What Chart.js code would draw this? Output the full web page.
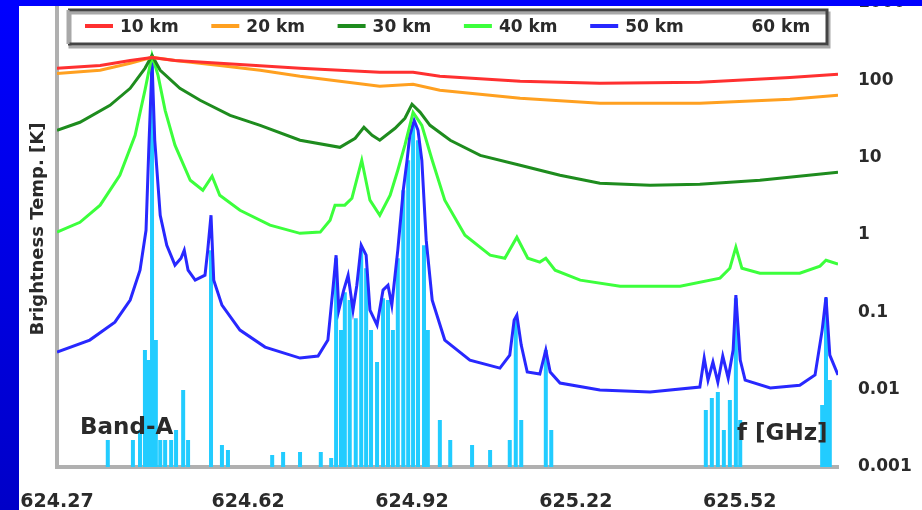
<!DOCTYPE html>
<html>
<head>
<meta charset="utf-8">
<script src="https://cdn.jsdelivr.net/npm/chart.js@4"></script>
<style>
html,body{margin:0;padding:0;background:#fff;}
canvas{display:block;}
</style>
</head>
<body>
<canvas id="c" width="922" height="510"></canvas>
<script>
// ---- data (frequency in GHz, brightness temperature in K) ----
const seriesLabels = ['10 km', '20 km', '30 km', '40 km', '50 km', '60 km'];
const xTickValues = [624.27, 624.62, 624.92, 625.22, 625.52];
const yTickValues = [0.001, 0.01, 0.1, 1, 10, 100, 1000];
const yTickLabels = ['0.001', '0.01', '0.1', '1', '10', '100', '1000'];

const km10 = [[624.270,143],[624.349,156],[624.404,181],[624.444,198],[624.486,181],[624.568,166],[624.715,143],[624.861,127],[624.922,127],[624.971,113],[625.118,97],[625.264,91.5],[625.447,94.3],[625.612,109],[625.700,120]];

const km20 = [[624.270,123],[624.349,135],[624.404,166],[624.444,198],[624.486,181],[624.568,156],[624.642,135],[624.715,113],[624.861,83.6],[624.922,88.8],[624.971,74.3],[625.118,58.5],[625.264,50.5],[625.447,50.5],[625.612,56.9],[625.700,64.0]];

const km30 = [[624.270,22.6],[624.312,28.7],[624.367,47.5],[624.404,78.8],[624.431,143],[624.444,210],[624.459,135],[624.495,78.8],[624.532,55.2],[624.587,35.3],[624.642,26.2],[624.715,16.8],[624.788,13.6],[624.816,17.8],[624.832,24.7],[624.847,19.5],[624.861,16.8],[624.889,24.0],[624.907,32.3],[624.920,49.0],[624.935,38.6],[624.953,26.2],[624.990,16.8],[625.045,10.7],[625.118,7.98],[625.191,5.93],[625.264,4.67],[625.356,4.40],[625.447,4.53],[625.557,5.10],[625.700,6.48]];

const km40 = [[624.270,1.09],[624.312,1.46],[624.349,2.43],[624.385,5.93],[624.413,19.5],[624.431,74.3],[624.444,210],[624.455,116],[624.468,40.9],[624.486,14.5],[624.514,5.10],[624.537,3.79],[624.554,5.75],[624.568,3.27],[624.605,2.09],[624.660,1.34],[624.715,1.05],[624.752,1.09],[624.770,1.55],[624.779,2.43],[624.797,2.43],[624.810,2.99],[624.828,9.25],[624.843,2.82],[624.861,1.80],[624.880,3.27],[624.894,6.87],[624.907,14.5],[624.922,38.6],[624.938,26.2],[624.957,9.25],[624.980,2.82],[625.017,0.994],[625.063,0.548],[625.090,0.501],[625.112,0.937],[625.132,0.501],[625.154,0.446],[625.165,0.501],[625.182,0.351],[625.228,0.261],[625.301,0.218],[625.411,0.218],[625.484,0.277],[625.502,0.372],[625.513,0.696],[625.524,0.372],[625.557,0.321],[625.630,0.321],[625.667,0.396],[625.678,0.472],[625.700,0.420]];

const km50 = [[624.270,0.0306],[624.330,0.0438],[624.376,0.0746],[624.404,0.144],[624.422,0.351],[624.433,1.15],[624.438,12.5],[624.444,171],[624.449,16.8],[624.459,1.80],[624.471,0.738],[624.486,0.407],[624.497,0.501],[624.503,0.637],[624.510,0.351],[624.523,0.261],[624.541,0.302],[624.546,0.637],[624.552,1.80],[624.557,0.261],[624.572,0.124],[624.605,0.0589],[624.651,0.0355],[624.715,0.0256],[624.748,0.0272],[624.766,0.0438],[624.775,0.194],[624.781,0.548],[624.786,0.107],[624.795,0.194],[624.803,0.302],[624.812,0.107],[624.819,0.224],[624.827,0.738],[624.836,0.548],[624.843,0.107],[624.856,0.0684],[624.867,0.194],[624.876,0.224],[624.883,0.124],[624.894,0.637],[624.904,3.79],[624.911,9.25],[624.916,19.5],[624.924,30.4],[624.931,22.6],[624.938,9.25],[624.946,0.857],[624.957,0.144],[624.980,0.0438],[625.026,0.0241],[625.081,0.0190],[625.099,0.0280],[625.107,0.0793],[625.112,0.0920],[625.120,0.0377],[625.131,0.0169],[625.154,0.0159],[625.165,0.0325],[625.173,0.0169],[625.191,0.0122],[625.264,0.0099],[625.356,0.0093],[625.447,0.0108],[625.455,0.0256],[625.462,0.0133],[625.471,0.0228],[625.480,0.0125],[625.489,0.0272],[625.499,0.0141],[625.508,0.0325],[625.513,0.167],[625.521,0.0241],[625.530,0.0133],[625.576,0.0105],[625.630,0.0114],[625.658,0.0155],[625.671,0.0589],[625.678,0.157],[625.685,0.0280],[625.700,0.0155]];

// 60 km: narrow lines rising from the 0.001 K floor
const spikeBase = 0.001;
const spikeFreq = [624.363,624.409,624.422,624.431,624.437,624.444,624.451,624.459,624.468,624.479,624.488,624.501,624.510,624.552,624.572,624.583,624.664,624.684,624.715,624.753,624.772,624.781,624.790,624.797,624.806,624.817,624.827,624.836,624.845,624.856,624.867,624.876,624.885,624.894,624.904,624.913,624.922,624.931,624.942,624.949,624.971,624.990,625.030,625.063,625.099,625.110,625.120,625.165,625.175,625.458,625.469,625.480,625.491,625.502,625.513,625.521,625.671,625.678,625.685];
const spikePeak = [0.00223,0.00223,0.00301,0.0325,0.0241,171,0.0438,0.00223,0.00223,0.00223,0.00301,0.0099,0.00223,0.637,0.00192,0.00166,0.00143,0.00156,0.00156,0.00156,0.00131,0.501,0.0589,0.182,0.144,0.0841,0.674,0.372,0.0589,0.0228,0.152,0.144,0.0589,0.501,3.79,9.25,28.7,16.8,0.738,0.0589,0.00405,0.00223,0.00192,0.00166,0.00223,0.0841,0.00405,0.0325,0.00301,0.00544,0.00778,0.0093,0.00301,0.00735,0.152,0.00405,0.00632,0.152,0.0133];

const seriesColors = ['#ff3030', '#ffa020', '#1e8c1e', '#3cff3c', '#2828ff', '#22ccff'];

// ---- build datasets ----
const toPts = arr => arr.map(p => ({x: p[0], y: p[1]}));
const spikePts = [];
spikeFreq.forEach((f, i) => {
  spikePts.push({x: f, y: spikeBase});
  spikePts.push({x: f, y: spikePeak[i]});
  spikePts.push({x: f, y: null});
});
const lineSets = [km10, km20, km30, km40, km50];
const datasets = lineSets.map((s, i) => ({
  label: seriesLabels[i], data: toPts(s), borderColor: seriesColors[i],
  borderWidth: 3, pointRadius: 0, tension: 0, fill: false, showSwatch: true
}));
datasets.push({
  label: seriesLabels[5], data: spikePts, borderColor: seriesColors[5],
  borderWidth: 4, pointRadius: 0, tension: 0, fill: false, spanGaps: false, showSwatch: false
});

const FONT = 'DejaVu Sans';
const TXT = '#2a2a2a';

const decor = {
  id: 'decor',
  beforeDraw(chart) {
    const ctx = chart.ctx;
    ctx.save();
    ctx.fillStyle = '#fff';
    ctx.fillRect(0, 0, chart.width, chart.height);
    ctx.restore();
  },
  beforeDatasetsDraw(chart) {
    const ctx = chart.ctx, a = chart.chartArea;
    ctx.save();
    ctx.strokeStyle = '#b0b0b0';
    ctx.lineWidth = 4;
    ctx.beginPath();
    ctx.moveTo(a.left, a.top);
    ctx.lineTo(a.left, a.bottom + 2);
    ctx.stroke();
    ctx.restore();
  },
  afterDatasetsDraw(chart) {
    const ctx = chart.ctx, a = chart.chartArea;
    ctx.save();
    // legend box
    const bx = 68, by = 10, bw = 759, bh = 34;
    ctx.fillStyle = '#fff';
    ctx.fillRect(bx, by, bw, bh);
    ctx.strokeStyle = '#a8a8a8';
    ctx.lineWidth = 3;
    ctx.strokeRect(bx + 2, by + 3, bw, bh);
    ctx.strokeStyle = '#444';
    ctx.beginPath();
    ctx.moveTo(bx, by); ctx.lineTo(bx + bw, by); ctx.lineTo(bx + bw, by + bh); ctx.lineTo(bx, by + bh);
    ctx.stroke();
    ctx.strokeStyle = '#a8a8a8';
    ctx.beginPath(); ctx.moveTo(bx, by); ctx.lineTo(bx, by + bh); ctx.stroke();
    ctx.font = 'bold 17px "' + FONT + '"';
    ctx.textBaseline = 'middle';
    ctx.textAlign = 'left';
    chart.data.datasets.forEach((ds, i) => {
      const x0 = 85 + i * 126.3;
      if (ds.showSwatch) {
        ctx.fillStyle = ds.borderColor;
        ctx.fillRect(x0, 24, 28, 4);
      }
      ctx.fillStyle = TXT;
      ctx.fillText(ds.label, x0 + 35, 28);
    });
    // annotations
    ctx.font = 'bold 23px "' + FONT + '"';
    ctx.fillText('Band-A', 80, 428);
    ctx.fillText('f [GHz]', 737, 434);
    // y axis title
    ctx.translate(38, 229);
    ctx.rotate(-Math.PI / 2);
    ctx.textAlign = 'center';
    ctx.font = 'bold 18px "' + FONT + '"';
    ctx.fillText('Brightness Temp. [K]', 0, 0);
    ctx.restore();
  },
  afterDraw(chart) {
    const ctx = chart.ctx;
    ctx.save();
    const g = ctx.createLinearGradient(0, 0, 0, chart.height);
    g.addColorStop(0, '#0000ff');
    g.addColorStop(1, '#0000c8');
    ctx.fillStyle = g;
    ctx.fillRect(0, 0, 19, chart.height);
    ctx.fillStyle = '#0000ff';
    ctx.fillRect(0, 0, chart.width, 6);
    ctx.restore();
  }
};

new Chart(document.getElementById('c'), {
  type: 'line',
  data: { datasets },
  plugins: [decor],
  options: {
    responsive: false,
    animation: false,
    devicePixelRatio: 1,
    layout: { padding: { left: 57, top: 3, right: 0, bottom: 0 } },
    plugins: { legend: { display: false }, tooltip: { enabled: false } },
    scales: {
      x: {
        type: 'linear',
        min: 624.27, max: 625.70,
        afterBuildTicks: s => { s.ticks = xTickValues.map(v => ({ value: v })); },
        afterFit: s => { s.height = 43; s.paddingLeft = 0; s.paddingRight = 0; },
        grid: { display: false, drawTicks: false },
        border: { display: true, color: '#b0b0b0', width: 4 },
        ticks: {
          autoSkip: false, maxRotation: 0, padding: 24,
          color: TXT, font: { family: FONT, size: 19, weight: 'bold' },
          callback: v => v.toFixed(2)
        }
      },
      y: {
        type: 'logarithmic',
        position: 'right',
        min: 0.001, max: 1000,
        afterBuildTicks: s => { s.ticks = yTickValues.map(v => ({ value: v })); },
        afterFit: s => { s.width = 84; s.paddingTop = 0; s.paddingBottom = 0; },
        grid: { display: false, drawTicks: false },
        border: { display: false },
        ticks: {
          autoSkip: false, padding: 20,
          color: TXT, font: { family: FONT, size: 17, weight: 'bold' },
          callback: (v) => { const i = yTickValues.indexOf(v); return i >= 0 ? yTickLabels[i] : ''; }
        }
      }
    }
  }
});
</script>
</body>
</html>
